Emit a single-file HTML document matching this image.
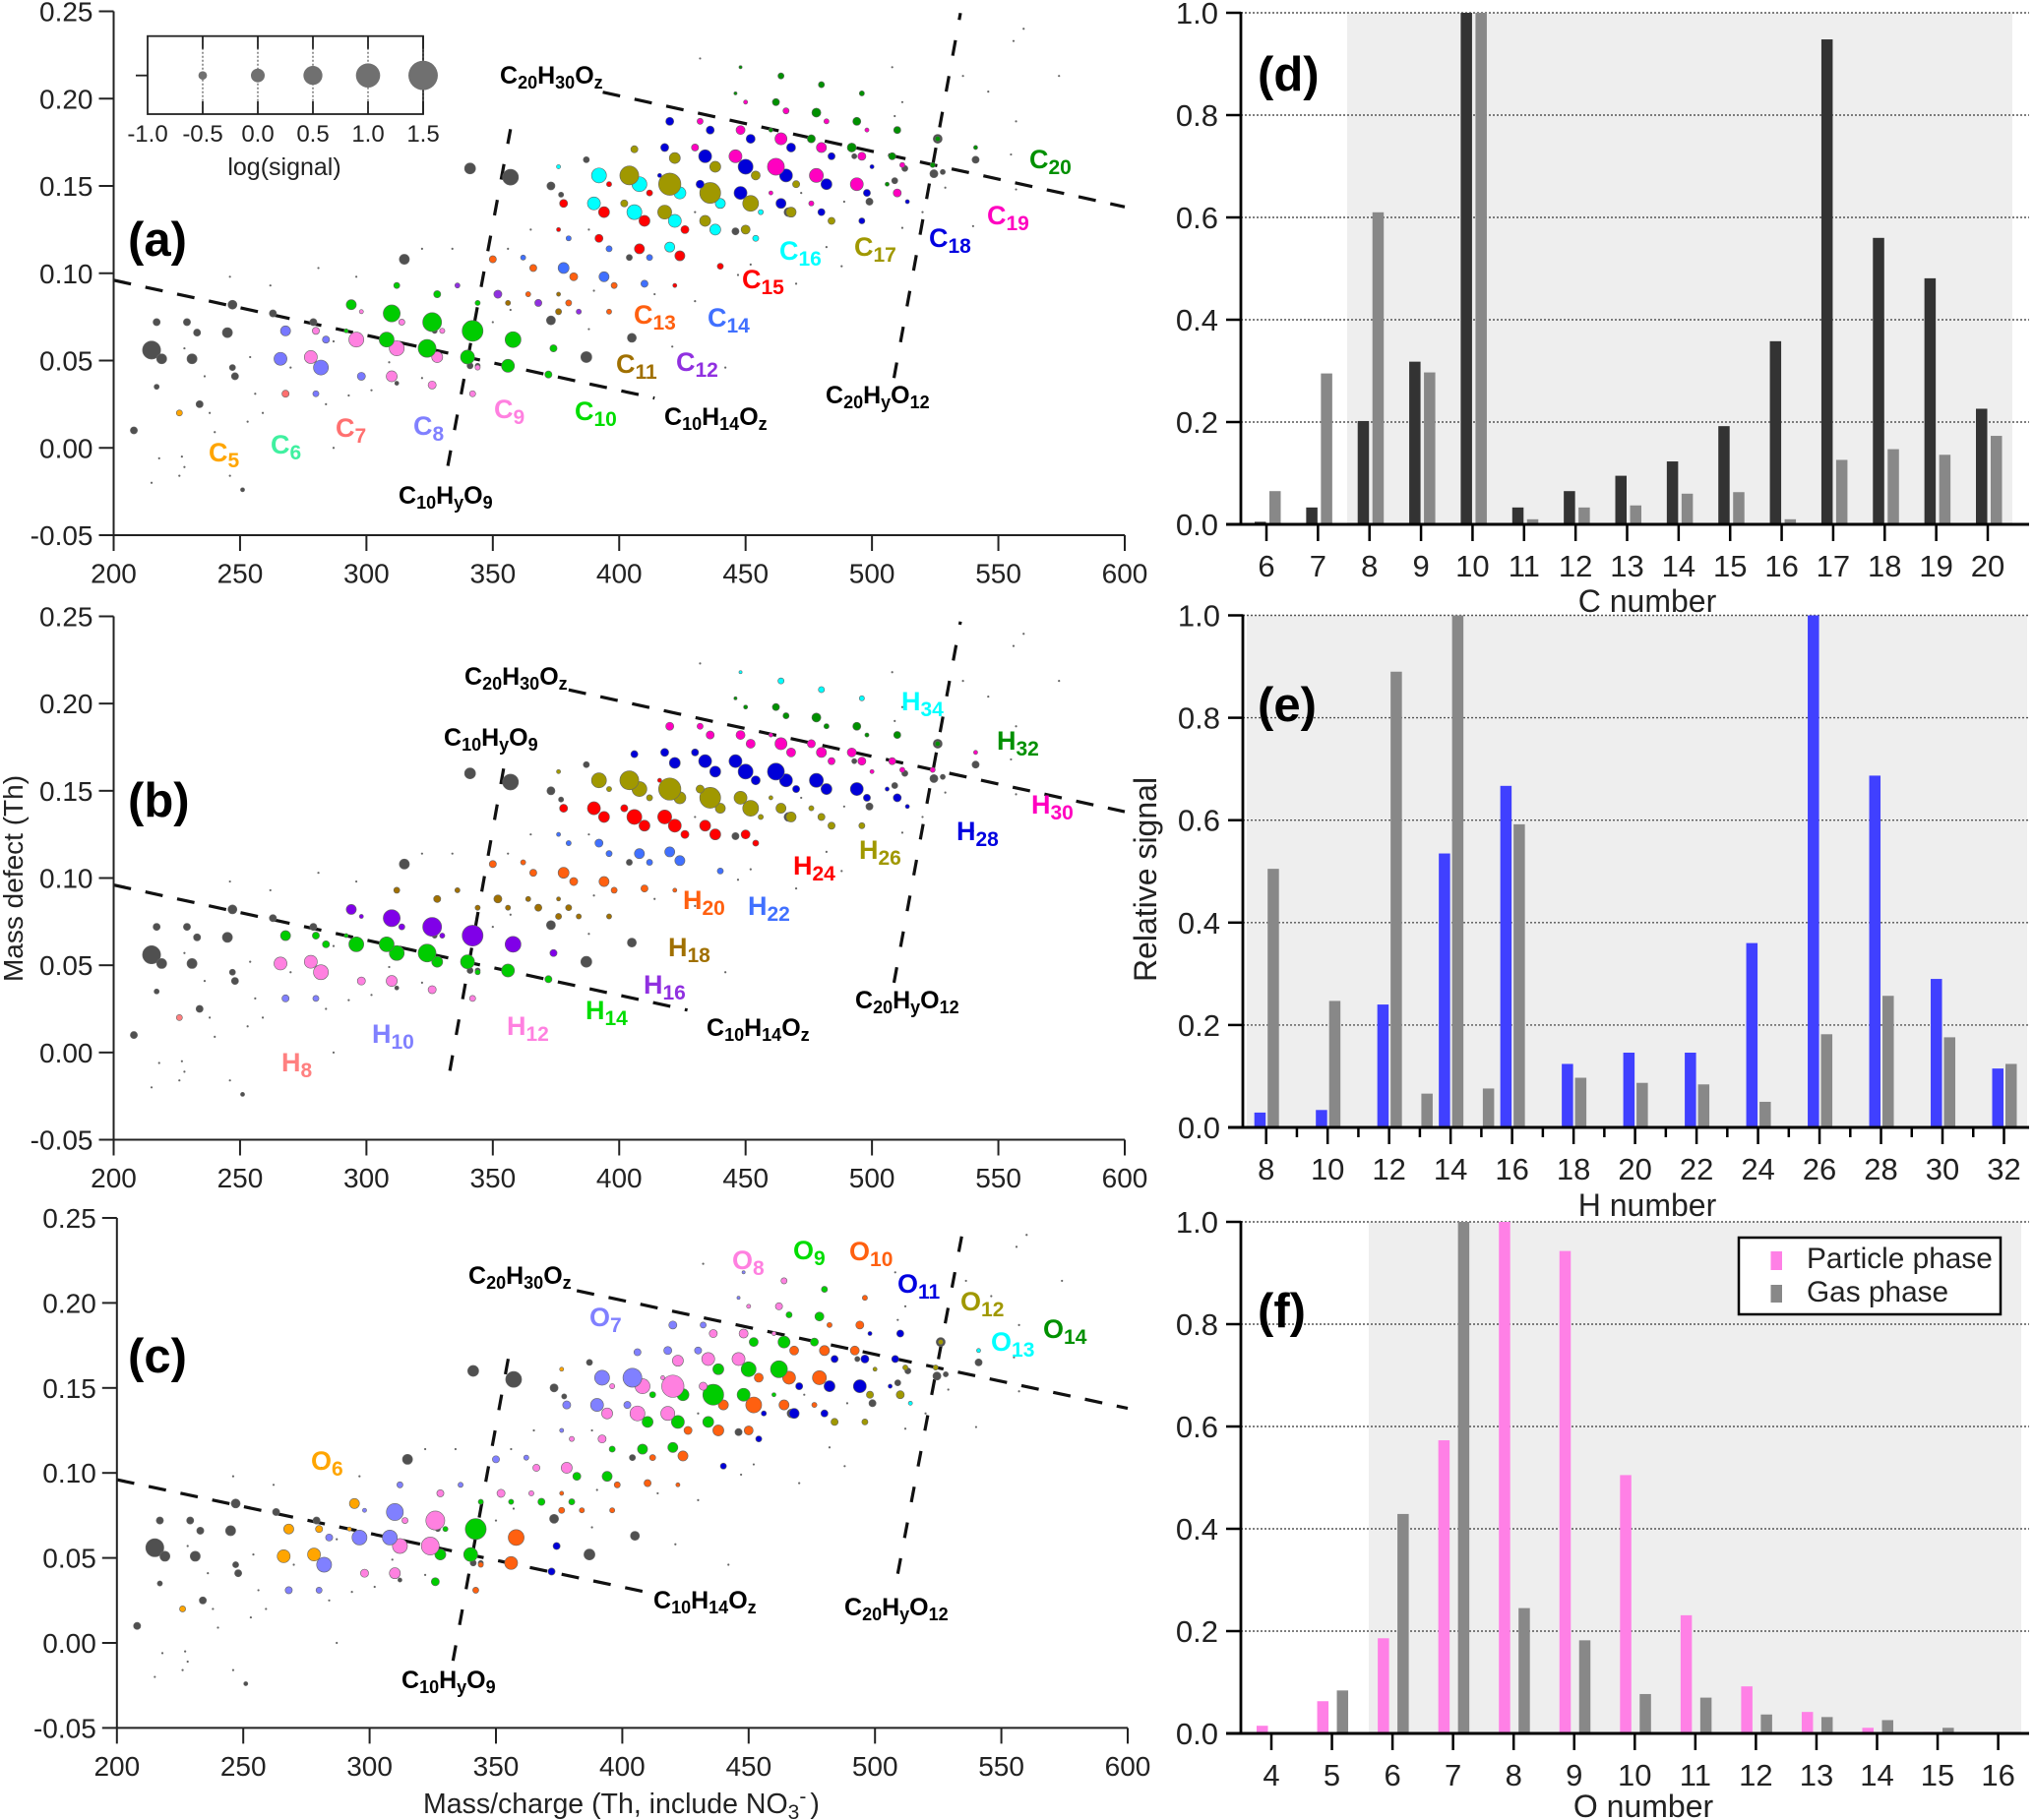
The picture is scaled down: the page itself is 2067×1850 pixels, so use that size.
<!DOCTYPE html>
<html lang="en">
<head>
<meta charset="utf-8">
<title>Mass defect plots and carbon, hydrogen and oxygen number distributions</title>
<style>
html,body{margin:0;padding:0;background:#fff;}
svg{display:block;font-family:"Liberation Sans",Arial,sans-serif;}
.tick{font-size:28px;fill:#222;}
.rtick{font-size:31px;fill:#222;}
.title{font-size:28px;fill:#222;}
.rtitle{font-size:32px;fill:#222;}
.lab{font-weight:bold;font-size:27px;}
.lab tspan.s{font-size:21px;}
.blk{font-weight:bold;font-size:25px;fill:#000;}
.blk tspan.s{font-size:18px;}
.pan{font-weight:bold;font-size:49px;fill:#000;}
</style>
</head>
<body>
<svg id="fig" xmlns="http://www.w3.org/2000/svg" width="2067" height="1850" viewBox="0 0 2067 1850">
  <rect x="0" y="0" width="2067" height="1850" fill="#fff"/>
  <g id="panelA"></g>
  <g id="panelB"></g>
  <g id="panelC"></g>
  <g id="panelD"></g>
  <g id="panelE"></g>
  <g id="panelF"></g>
  <g id="inset"></g>

  <g>
    <text class="pan" x="130" y="260">(a)</text>
    <text class="pan" x="130" y="830">(b)</text>
    <text class="pan" x="130" y="1395">(c)</text>
    <text class="pan" x="1278" y="92">(d)</text>
    <text class="pan" x="1278" y="733">(e)</text>
    <text class="pan" x="1278" y="1349">(f)</text>
  </g>

  <g>
    <text class="lab" x="212" y="469" fill="#FFA500">C<tspan class="s" dy="6">5</tspan></text>
    <text class="lab" x="275" y="461" fill="#40F0A0">C<tspan class="s" dy="6">6</tspan></text>
    <text class="lab" x="341" y="444" fill="#FF7070">C<tspan class="s" dy="6">7</tspan></text>
    <text class="lab" x="420" y="442" fill="#8080FF">C<tspan class="s" dy="6">8</tspan></text>
    <text class="lab" x="502" y="425" fill="#FF80E0">C<tspan class="s" dy="6">9</tspan></text>
    <text class="lab" x="584" y="427" fill="#00DD00">C<tspan class="s" dy="6">10</tspan></text>
    <text class="lab" x="626" y="379" fill="#A07000">C<tspan class="s" dy="6">11</tspan></text>
    <text class="lab" x="687" y="377" fill="#9030E0">C<tspan class="s" dy="6">12</tspan></text>
    <text class="lab" x="644" y="329" fill="#FF6010">C<tspan class="s" dy="6">13</tspan></text>
    <text class="lab" x="719" y="332" fill="#4070FF">C<tspan class="s" dy="6">14</tspan></text>
    <text class="lab" x="754" y="293" fill="#FF0000">C<tspan class="s" dy="6">15</tspan></text>
    <text class="lab" x="792" y="264" fill="#00FFFF">C<tspan class="s" dy="6">16</tspan></text>
    <text class="lab" x="868" y="260" fill="#A09800">C<tspan class="s" dy="6">17</tspan></text>
    <text class="lab" x="944" y="251" fill="#0000E0">C<tspan class="s" dy="6">18</tspan></text>
    <text class="lab" x="1003" y="228" fill="#FF00C0">C<tspan class="s" dy="6">19</tspan></text>
    <text class="lab" x="1046" y="171" fill="#009000">C<tspan class="s" dy="6">20</tspan></text>
    <text class="blk" x="508" y="85">C<tspan class="s" dy="5">20</tspan><tspan dy="-5">H</tspan><tspan class="s" dy="5">30</tspan><tspan dy="-5">O</tspan><tspan class="s" dy="5">z</tspan></text>
    <text class="blk" x="405" y="512">C<tspan class="s" dy="5">10</tspan><tspan dy="-5">H</tspan><tspan class="s" dy="5">y</tspan><tspan dy="-5">O</tspan><tspan class="s" dy="5">9</tspan></text>
    <text class="blk" x="675" y="432">C<tspan class="s" dy="5">10</tspan><tspan dy="-5">H</tspan><tspan class="s" dy="5">14</tspan><tspan dy="-5">O</tspan><tspan class="s" dy="5">z</tspan></text>
    <text class="blk" x="839" y="410">C<tspan class="s" dy="5">20</tspan><tspan dy="-5">H</tspan><tspan class="s" dy="5">y</tspan><tspan dy="-5">O</tspan><tspan class="s" dy="5">12</tspan></text>
  </g>

  <g>
    <text class="lab" x="286" y="1089" fill="#FF8080">H<tspan class="s" dy="6">8</tspan></text>
    <text class="lab" x="378" y="1060" fill="#8080FF">H<tspan class="s" dy="6">10</tspan></text>
    <text class="lab" x="515" y="1052" fill="#FF80E0">H<tspan class="s" dy="6">12</tspan></text>
    <text class="lab" x="595" y="1036" fill="#00DD00">H<tspan class="s" dy="6">14</tspan></text>
    <text class="lab" x="654" y="1010" fill="#9030E0">H<tspan class="s" dy="6">16</tspan></text>
    <text class="lab" x="679" y="972" fill="#A07000">H<tspan class="s" dy="6">18</tspan></text>
    <text class="lab" x="694" y="924" fill="#FF6010">H<tspan class="s" dy="6">20</tspan></text>
    <text class="lab" x="760" y="930" fill="#4070FF">H<tspan class="s" dy="6">22</tspan></text>
    <text class="lab" x="806" y="889" fill="#FF0000">H<tspan class="s" dy="6">24</tspan></text>
    <text class="lab" x="873" y="873" fill="#A09800">H<tspan class="s" dy="6">26</tspan></text>
    <text class="lab" x="972" y="854" fill="#0000E0">H<tspan class="s" dy="6">28</tspan></text>
    <text class="lab" x="1048" y="827" fill="#FF00C0">H<tspan class="s" dy="6">30</tspan></text>
    <text class="lab" x="1013" y="762" fill="#009000">H<tspan class="s" dy="6">32</tspan></text>
    <text class="lab" x="916" y="722" fill="#00FFFF">H<tspan class="s" dy="6">34</tspan></text>
    <text class="blk" x="472" y="696">C<tspan class="s" dy="5">20</tspan><tspan dy="-5">H</tspan><tspan class="s" dy="5">30</tspan><tspan dy="-5">O</tspan><tspan class="s" dy="5">z</tspan></text>
    <text class="blk" x="451" y="758">C<tspan class="s" dy="5">10</tspan><tspan dy="-5">H</tspan><tspan class="s" dy="5">y</tspan><tspan dy="-5">O</tspan><tspan class="s" dy="5">9</tspan></text>
    <text class="blk" x="718" y="1053">C<tspan class="s" dy="5">10</tspan><tspan dy="-5">H</tspan><tspan class="s" dy="5">14</tspan><tspan dy="-5">O</tspan><tspan class="s" dy="5">z</tspan></text>
    <text class="blk" x="869" y="1025">C<tspan class="s" dy="5">20</tspan><tspan dy="-5">H</tspan><tspan class="s" dy="5">y</tspan><tspan dy="-5">O</tspan><tspan class="s" dy="5">12</tspan></text>
  </g>

  <g>
    <text class="lab" x="316" y="1494" fill="#FFA500">O<tspan class="s" dy="6">6</tspan></text>
    <text class="lab" x="599" y="1348" fill="#8080FF">O<tspan class="s" dy="6">7</tspan></text>
    <text class="lab" x="744" y="1290" fill="#FF80E0">O<tspan class="s" dy="6">8</tspan></text>
    <text class="lab" x="806" y="1280" fill="#00DD00">O<tspan class="s" dy="6">9</tspan></text>
    <text class="lab" x="863" y="1281" fill="#FF6010">O<tspan class="s" dy="6">10</tspan></text>
    <text class="lab" x="912" y="1314" fill="#0000E0">O<tspan class="s" dy="6">11</tspan></text>
    <text class="lab" x="976" y="1332" fill="#A09800">O<tspan class="s" dy="6">12</tspan></text>
    <text class="lab" x="1007" y="1373" fill="#00FFFF">O<tspan class="s" dy="6">13</tspan></text>
    <text class="lab" x="1060" y="1360" fill="#009000">O<tspan class="s" dy="6">14</tspan></text>
    <text class="blk" x="476" y="1305">C<tspan class="s" dy="5">20</tspan><tspan dy="-5">H</tspan><tspan class="s" dy="5">30</tspan><tspan dy="-5">O</tspan><tspan class="s" dy="5">z</tspan></text>
    <text class="blk" x="408" y="1716">C<tspan class="s" dy="5">10</tspan><tspan dy="-5">H</tspan><tspan class="s" dy="5">y</tspan><tspan dy="-5">O</tspan><tspan class="s" dy="5">9</tspan></text>
    <text class="blk" x="664" y="1635">C<tspan class="s" dy="5">10</tspan><tspan dy="-5">H</tspan><tspan class="s" dy="5">14</tspan><tspan dy="-5">O</tspan><tspan class="s" dy="5">z</tspan></text>
    <text class="blk" x="858" y="1642">C<tspan class="s" dy="5">20</tspan><tspan dy="-5">H</tspan><tspan class="s" dy="5">y</tspan><tspan dy="-5">O</tspan><tspan class="s" dy="5">12</tspan></text>
  </g>

  <g>
    <text class="title" transform="translate(23,893) rotate(-90)" text-anchor="middle">Mass defect (Th)</text>
    <text class="title" style="font-size:28.5px" x="430" y="1843">Mass/charge (Th, include NO<tspan font-size="21" dy="6">3</tspan><tspan font-size="21" dy="-16">-</tspan><tspan dy="10" dx="4">)</tspan></text>
    <text class="rtitle" transform="translate(1175,894) rotate(-90)" text-anchor="middle">Relative signal</text>
    <text class="rtitle" x="1674" y="622" text-anchor="middle">C number</text>
    <text class="rtitle" x="1674" y="1236" text-anchor="middle">H number</text>
    <text class="rtitle" x="1670" y="1847" text-anchor="middle">O number</text>
  </g>

  <g>
    <rect x="1767" y="1258" width="266" height="78" fill="#fff" stroke="#000" stroke-width="2.5"/>
    <rect x="1799.5" y="1272" width="11.5" height="19" fill="#FF80E6"/>
    <rect x="1799.5" y="1306" width="11.5" height="18" fill="#888888"/>
    <text class="rtitle" style="font-size:29.8px" x="1836" y="1289">Particle phase</text>
    <text class="rtitle" style="font-size:29.8px" x="1836" y="1323">Gas phase</text>
  </g>
</svg>

<script>
/* Peak table: m/z, mass defect, log signal, then element counts (0 = unassigned, grey) */
var mzValues = [
208,215,219,217,217,229,233,231,234,245,247,247,248,251,263,279,315,341,357,387,373,405,341,373,387,377,467,446,509,524.5,526,513,499,541,493,528,312,327,404,344,
226,268,
268,266,284,282,280,298,
280,278,296,312,310,326,328,314,298,342,330,344,
294,310,326,342,358,308,324,340,356,372,328,312,344,374,292,
350,362,366,378,382,394,398,410,352,356,368,380,376,384,396,336,364,376,
392,380,376,396,408,412,420,424,440,422,
392,408,424,440,390,406,422,438,454,456,376,
378,394,410,426,396,412,
404,420,436,452,468,484,402,418,434,450,406,422,438,454,470,
420,436,452,468,484,500,418,434,450,466,482,498,514,432,448,464,480,496,416,
432,448,464,480,496,512,430,446,462,478,494,510,460,476,450,466,482,498,
464,480,496,462,478,494,510,526,446,448,460,476,492,508,524,541,506
];
var defectValues = [
.010,.056,.051,.072,.035,.072,.066,.051,.025,.066,.082,.046,.041,-.024,.077,.072,.108,.160,.155,.052,.073,.063,.047,.150,.165,.145,.135,.124,.153,.157,.177,.160,.141,.165,.167,.158,.037,.067,.109,.047,
.020,.031,
.067,.051,.062,.046,.031,.041,
.067,.052,.062,.057,.041,.036,.052,.072,.078,.031,.067,.046,
.082,.077,.072,.067,.062,.062,.057,.052,.047,.042,.088,.093,.083,.057,.067,
.108,.109,.103,.103,.098,.098,.093,.094,.088,.083,.083,.083,.078,.078,.078,.093,.088,.088,
.120,.120,.125,.114,.114,.109,.115,.110,.104,.093,
.156,.151,.146,.140,.140,.135,.130,.125,.120,.135,.161,
.140,.135,.130,.125,.151,.146,
.156,.151,.146,.140,.135,.130,.140,.135,.130,.125,.171,.166,.161,.156,.151,
.187,.182,.177,.172,.167,.161,.172,.167,.161,.156,.151,.146,.141,.151,.146,.140,.135,.130,.156,
.187,.182,.177,.172,.167,.162,.172,.167,.161,.156,.151,.146,.146,.140,.198,.193,.187,.182,
.213,.208,.203,.198,.192,.187,.182,.177,.203,.218,.182,.177,.172,.167,.162,.172,.151
];
var logSignal = [
-.75,.3,-.47,-.75,-.94,-.75,-.75,-.47,-.75,-.47,-.57,-.85,-.75,-1.04,-.75,-.75,-.47,-.38,.09,-.38,-.57,-.57,-.85,-.66,-.85,-.94,-.57,-.75,-.85,-.66,-.57,-.85,-.75,-.75,-.94,-.94,-1.04,-.94,-.85,-.94,
-.85,-.75,
-.47,-.19,-.75,0,-.85,-.66,
-.75,-.19,0,0,-.38,-.66,-.38,-.85,-1.04,-.85,-.94,-.94,
-.47,.19,.38,.57,.09,0,.28,-.09,-.19,-.75,-.75,-.85,-.94,-.75,-1.04,
-.75,-.94,-.75,-.38,-.66,-.47,-.85,-.75,-.66,-.94,-.75,-.85,-.85,-.94,-.94,-.94,-.94,-1.04,
-.66,-.94,-1.04,-.85,-.47,-.85,-.47,-.47,-.85,-1.04,
0,0,-.28,-.47,-.19,0,-.19,-.38,-.85,-.94,-1.04,
-.66,-.38,-.38,-.66,-.94,-.85,
.38,.7,.57,.09,-.47,-.75,-.75,-.09,-.38,-.57,-.75,-.38,-.38,-.57,-.75,
-.66,-.66,-.57,-.57,-.75,-1.04,-.66,-.19,0,-.19,-.38,-.75,-1.04,-.66,-.19,-.47,-.75,-.85,-1.04,
-.85,-.57,-.28,-.47,-.66,-.94,-.75,-.19,.19,-.09,-.19,-.66,-1.04,-.94,-1.04,-.85,-.94,-1.04,
-.85,-.85,-.94,-.75,-.57,-.66,-.75,-.94,-1.13,-1.13,-1.04,-.66,-.57,-.75,-.94,-1.04,-1.04
];
var carbonCounts = [
0,0,0,0,0,0,0,0,0,0,0,0,0,0,0,0,0,0,0,0,0,0,0,0,0,0,0,0,0,0,0,0,0,0,0,0,0,0,0,0,
5,7,
8,8,8,8,8,8,
9,9,9,9,9,9,9,9,9,9,9,9,
10,10,10,10,10,10,10,10,10,10,10,10,10,10,10,
13,14,13,14,13,14,13,14,12,11,12,13,11,12,13,12,13,11,
15,14,15,14,15,14,16,15,15,15,
16,16,16,16,16,16,16,16,16,16,16,
15,15,15,15,15,15,
17,17,17,17,17,17,17,17,17,17,17,17,17,17,17,
18,18,18,18,18,18,18,18,18,18,18,18,18,18,18,18,18,18,18,
19,19,19,19,19,19,19,19,19,19,19,19,19,19,19,19,19,19,
20,20,20,20,20,20,20,20,20,20,20,20,20,20,20,20,20
];
var hydrogenCounts = [
0,0,0,0,0,0,0,0,0,0,0,0,0,0,0,0,0,0,0,0,0,0,0,0,0,0,0,0,0,0,0,0,0,0,0,0,0,0,0,0,
8,10,
14,12,14,12,10,12,
14,12,14,14,12,12,14,16,16,12,16,14,
16,16,16,16,16,14,14,14,14,14,18,18,18,16,14,
20,20,20,20,20,20,20,20,18,18,18,18,18,18,18,18,18,18,
22,22,22,22,22,22,22,22,22,20,
26,26,26,26,24,24,24,24,24,26,26,
24,24,24,24,26,26,
26,26,26,26,26,26,24,24,24,24,28,28,28,28,28,
30,30,30,30,30,30,28,28,28,28,28,28,28,26,26,26,26,26,24,
30,30,30,30,30,30,28,28,28,28,28,28,26,26,32,32,32,32,
34,34,34,32,32,32,32,32,32,34,30,30,30,30,30,30,28
];
var oxygenCounts = [
0,0,0,0,0,0,0,0,0,0,0,0,0,0,0,0,0,0,0,0,0,0,0,0,0,0,0,0,0,0,0,0,0,0,0,0,0,0,0,0,
6,7,
6,6,7,7,7,8,
6,6,7,8,8,9,9,8,7,10,9,10,
6,7,8,9,10,7,8,9,10,11,8,7,9,11,6,
7,7,8,8,9,9,10,10,8,9,9,9,10,10,10,7,8,10,
8,8,7,9,9,10,9,10,11,10,
7,8,9,10,7,8,9,10,11,11,6,
7,8,9,10,8,9,
7,8,9,10,11,12,7,8,9,10,7,8,9,10,11,
7,8,9,10,11,12,7,8,9,10,11,12,13,8,9,10,11,12,8,
7,8,9,10,11,12,7,8,9,10,11,12,9,10,8,9,10,11,
8,9,10,8,9,10,11,12,7,7,8,9,10,11,12,13,11
];
/* Very small peaks drawn as grey dots */
var tinyMz = [228,236,238,240,227,218,228,226,215,246,253,259,270,256,254,246,262,296,281,322,334,293,302,284,287,287,309,322,432,508,560,556,574,546,557,555,557,540,536,512,509,482,488,470,442,421,430,414,388,365,356,390,350,357,520,529,512,489,472,430,447,452,388];
var tinyDefect = [.057,.041,.020,.009,-.005,-.006,-.011,-.016,-.020,-.016,.015,.020,.046,.031,.052,.098,.093,.098,.103,.114,.114,.030,.033,.025,0,.061,.049,.040,.223,.218,.240,.233,.213,.204,.187,.168,.148,.127,.213,.198,.190,.115,.104,.094,.046,.058,.084,.088,.125,.125,.114,.090,.072,.079,.135,.149,.126,.141,.146,.135,.099,.105,.068];

var massTicks = [200,250,300,350,400,450,500,550,600];
var defectTicks = [-0.05,0,0.05,0.10,0.15,0.20,0.25];
var legendLogs = [-0.5,0,0.5,1,1.5];
var legendTicks = [-1,-0.5,0,0.5,1,1.5];

var signalTicks = [0,0.2,0.4,0.6,0.8,1.0];
var cNumbers = [6,7,8,9,10,11,12,13,14,15,16,17,18,19,20];
var cParticle = [.005,.033,.202,.318,1,.033,.065,.095,.123,.192,.358,.948,.56,.481,.226];
var cGas = [.065,.295,.61,.297,1,.01,.033,.037,.06,.063,.01,.126,.147,.136,.173];
var hNumbers = [8,9,10,11,12,13,14,15,16,17,18,19,20,21,22,23,24,25,26,27,28,29,30,31,32];
var hParticle = [.029,.001,.034,.001,.24,.001,.535,.001,.667,.001,.124,.001,.146,.001,.146,.001,.36,.001,1,.001,.687,.001,.29,.001,.115];
var hGas = [.505,.001,.247,.001,.89,.066,1,.076,.592,.001,.097,.001,.087,.001,.084,.001,.05,.001,.182,.001,.257,.001,.176,.001,.124];
var oNumbers = [4,5,6,7,8,9,10,11,12,13,14,15,16];
var oParticle = [.015,.063,.186,.573,1,.943,.505,.231,.092,.042,.011,.003,.002];
var oGas = [0,.084,.429,1,.245,.182,.077,.07,.037,.032,.026,.011,.002];

/* Reference-line end points in data units: [m/z start, defect start, m/z end, defect end] */
var upperLineA = [393.5,.2037,600,.138];
var upperLineB = [380,.2079,600,.138];
var upperLineC = [382,.2072,600,.138];
var lowerLineA = [200,.096,414,.0285];
var lowerLineB = [200,.096,427,.0243];
var lowerLineC = [200,.096,409,.030];
var steepLineA = [332.2,-.0103,357,.1825];
var steepLineB = [333,-.0105,355,.1686];
var steepLineC = [333,-.0105,355.7,.174];
var highLineA = [508.7,.04,535,.249];
var highLineB = [508.7,.04,535,.247];
var highLineC = [509,.0407,535,.2446];

var carbonColors = {5:'#FFA500',6:'#40F0A0',7:'#FF7070',8:'#7878FF',9:'#FF80E0',10:'#00CC00',11:'#A07000',12:'#9030E0',13:'#FF6010',14:'#4070FF',15:'#FF0000',16:'#00FFFF',17:'#A09800',18:'#0000D8',19:'#FF00C0',20:'#009000'};
var hydrogenColors = {8:'#FF8080',10:'#8080FF',12:'#FF80E0',14:'#00CC00',16:'#8000E8',18:'#A07000',20:'#FF6010',22:'#4070FF',24:'#FF0000',26:'#A09800',28:'#0000D8',30:'#FF00C0',32:'#009000',34:'#00FFFF'};
var oxygenColors = {6:'#FFA500',7:'#8080FF',8:'#FF80E0',9:'#00CC00',10:'#FF6010',11:'#0000D8',12:'#A09800',13:'#00FFFF',14:'#009000'};

var NS = 'http://www.w3.org/2000/svg';
function mk(parent, tag, attrs, txt) {
  var e = document.createElementNS(NS, tag);
  for (var k in attrs) { e.setAttribute(k, attrs[k]); }
  if (txt !== undefined) { e.textContent = txt; }
  parent.appendChild(e);
  return e;
}
function radius(lg) { return Math.max(0.8, 7 + 5.3 * lg); }

function scatterPanel(id, box, counts, colors, lines, suffix) {
  var g = document.getElementById(id);
  var sx = function (m) { return box.x0 + (m - 200) / 400 * (box.x1 - box.x0); };
  var sy = function (d) { return box.y0 + (0.25 - d) / 0.30 * (box.y1 - box.y0); };

  tinyMz.forEach(function (m, i) {
    var dot = mk(g, 'circle', {cx: sx(m), cy: sy(tinyDefect[i]), r: 1.1, fill: '#666'});
    
    
  });

  lines.forEach(function (L, i) {
    var line = mk(g, 'line', {x1: sx(L.v[0]), y1: sy(L.v[1]), x2: sx(L.v[2]), y2: sy(L.v[3]), stroke: '#111', 'stroke-width': 3.2, 'stroke-dasharray': L.dash});
    
    
  });

  mzValues.forEach(function (m, i) {
    var c = counts[i];
    var dot = mk(g, 'circle', {cx: sx(m), cy: sy(defectValues[i]), r: radius(logSignal[i]) + 0.6, fill: c ? colors[c] : '#505050', stroke: '#666', 'stroke-width': 0.6});
    
    
  });

  var axisY = mk(g, 'line', {x1: box.x0, y1: box.y0, x2: box.x0, y2: box.y1, stroke: '#222', 'stroke-width': 2});
  
  
  var axisX = mk(g, 'line', {x1: box.x0 - 1, y1: box.y1, x2: box.x1, y2: box.y1, stroke: '#222', 'stroke-width': 2});
  
  

  massTicks.forEach(function (t) {
    var tk = mk(g, 'line', {x1: sx(t), y1: box.y1, x2: sx(t), y2: box.y1 + 16, stroke: '#222', 'stroke-width': 2});
    
    
    var lb = mk(g, 'text', {x: sx(t), y: box.y1 + 48.5, 'class': 'tick', 'text-anchor': 'middle'}, String(t));
    
    
  });
  defectTicks.forEach(function (t) {
    var tk = mk(g, 'line', {x1: box.x0 - 15, y1: sy(t), x2: box.x0, y2: sy(t), stroke: '#222', 'stroke-width': 2});
    
    
    var lb = mk(g, 'text', {x: box.x0 - 21, y: sy(t) + 10, 'class': 'tick', 'text-anchor': 'end'}, t.toFixed(2));
    
    
  });
}

scatterPanel('panelA', {x0: 115.5, x1: 1143, y0: 11.5, y1: 544}, carbonCounts, carbonColors, [
  {v: upperLineA, dash: '18 15', name: 'line-c20h30oz'},
  {v: lowerLineA, dash: '18 15', name: 'line-c10h14oz'},
  {v: steepLineA, dash: '16 21', name: 'line-c10hyo9'},
  {v: highLineA, dash: '16 21', name: 'line-c20hyo12'}
], 'a');
scatterPanel('panelB', {x0: 115.5, x1: 1143, y0: 626.5, y1: 1158.5}, hydrogenCounts, hydrogenColors, [
  {v: upperLineB, dash: '18 15', name: 'line-c20h30oz'},
  {v: lowerLineB, dash: '18 15', name: 'line-c10h14oz'},
  {v: steepLineB, dash: '16 21', name: 'line-c10hyo9'},
  {v: highLineB, dash: '16 21', name: 'line-c20hyo12'}
], 'b');
scatterPanel('panelC', {x0: 118.8, x1: 1146, y0: 1238, y1: 1756.4}, oxygenCounts, oxygenColors, [
  {v: upperLineC, dash: '18 15', name: 'line-c20h30oz'},
  {v: lowerLineC, dash: '18 15', name: 'line-c10h14oz'},
  {v: steepLineC, dash: '16 21', name: 'line-c10hyo9'},
  {v: highLineC, dash: '16 21', name: 'line-c20hyo12'}
], 'c');

function barPanel(id, box, cats, first, last, partVals, gasVals, partColor, offs, labelCheck, suffix) {
  var g = document.getElementById(id);
  var sx = function (c) { return box.xFirst + (c - first) / (last - first) * (box.xLast - box.xFirst); };
  var sy = function (v) { return box.y0 + (box.y1 - box.y0) * (1 - v); };

  var bg = mk(g, 'rect', {x: box.bg0, y: box.y0, width: box.bg1 - box.bg0, height: box.y1 - box.y0, fill: '#EEEEEE'});
  
  

  signalTicks.forEach(function (t) {
    if (t > 0) {
      var gr = mk(g, 'line', {x1: box.axis, y1: sy(t), x2: box.right, y2: sy(t), stroke: '#555', 'stroke-width': 1.4, 'stroke-dasharray': '2 2'});
      
      
    }
    var tk = mk(g, 'line', {x1: box.axis - 15, y1: sy(t), x2: box.axis, y2: sy(t), stroke: '#000', 'stroke-width': 2.5});
    
    
    var lb = mk(g, 'text', {x: box.axis - 23, y: sy(t) + 11, 'class': 'rtick', 'text-anchor': 'end'}, t.toFixed(1));
    
    
  });

  cats.forEach(function (c, i) {
    var v = partVals[i];
    var b1 = mk(g, 'rect', {x: sx(c) + offs[0], y: sy(v), width: 11.5, height: box.y1 - sy(v), fill: partColor});
    
    
    var w = gasVals[i];
    var b2 = mk(g, 'rect', {x: sx(c) + offs[1], y: sy(w), width: 11.5, height: box.y1 - sy(w), fill: '#888888'});
    
    

    var major = labelCheck(c);
    var tk = mk(g, 'line', {x1: sx(c), y1: box.y1, x2: sx(c), y2: box.y1 + (major ? 17 : 10), stroke: '#000', 'stroke-width': 2.5});
    
    
    if (major) {
      var lb = mk(g, 'text', {x: sx(c), y: box.y1 + 53, 'class': 'rtick', 'text-anchor': 'middle'}, String(c));
      
      
    }
  });

  var ax = mk(g, 'line', {x1: box.axis, y1: box.y0 - 1, x2: box.axis, y2: box.y1, stroke: '#000', 'stroke-width': 2.8});
  
  
  var bx = mk(g, 'line', {x1: box.axis - 15, y1: box.y1, x2: box.right, y2: box.y1, stroke: '#000', 'stroke-width': 3});
  
  
}

barPanel('panelD', {axis: 1261, right: 2062, bg0: 1369, bg1: 2045, y0: 13, y1: 533, xFirst: 1287, xLast: 2020}, cNumbers, 6, 20, cParticle, cGas, '#333333', [-12, 3], function () { return true; }, 'd');
barPanel('panelE', {axis: 1263, right: 2062, bg0: 1267, bg1: 2060, y0: 625.5, y1: 1146, xFirst: 1286.7, xLast: 2036.5}, hNumbers, 8, 32, hParticle, hGas, '#4040FF', [-12, 1.5], function (c) { return c % 2 === 0; }, 'e');
barPanel('panelF', {axis: 1261, right: 2062, bg0: 1391, bg1: 2054, y0: 1242, y1: 1762, xFirst: 1292, xLast: 2030.6}, oNumbers, 4, 16, oParticle, oGas, '#FF80E6', [-15, 5], function () { return true; }, 'f');

/* Marker size legend */
(function () {
  var g = document.getElementById('inset');
  var x0 = 150, x1 = 430, y0 = 36.7, y1 = 116, my = 76.7;
  var lx = function (v) { return x0 + (v + 1) / 2.5 * (x1 - x0); };
  var frame = mk(g, 'rect', {x: x0, y: y0, width: x1 - x0, height: y1 - y0, fill: '#fff', stroke: '#222', 'stroke-width': 1.8});
  
  
  var lt = mk(g, 'line', {x1: x0 - 12, y1: my, x2: x0, y2: my, stroke: '#222', 'stroke-width': 1.8});
  
  
  legendTicks.forEach(function (t) {
    var lb = mk(g, 'text', {x: lx(t), y: 144, 'class': 'tick', 'text-anchor': 'middle', style: 'font-size:24px'}, t.toFixed(1));
    
    
  });
  legendLogs.forEach(function (t) {
    var dl = mk(g, 'line', {x1: lx(t), y1: y0, x2: lx(t), y2: y1, stroke: '#555', 'stroke-width': 1.2, 'stroke-dasharray': '2 2'});
    
    
    var s1 = mk(g, 'line', {x1: lx(t), y1: y0, x2: lx(t), y2: y0 + 13, stroke: '#222', 'stroke-width': 1.8});
    
    
    var s2 = mk(g, 'line', {x1: lx(t), y1: y1 - 13, x2: lx(t), y2: y1, stroke: '#222', 'stroke-width': 1.8});
    
    
    var c = mk(g, 'circle', {cx: lx(t), cy: my, r: radius(t), fill: '#707070'});
    
    
  });
  var ti = mk(g, 'text', {x: 289, y: 178, 'class': 'tick', 'text-anchor': 'middle', style: 'font-size:25px'}, 'log(signal)');
  
  
})();
</script>
</body>
</html>
